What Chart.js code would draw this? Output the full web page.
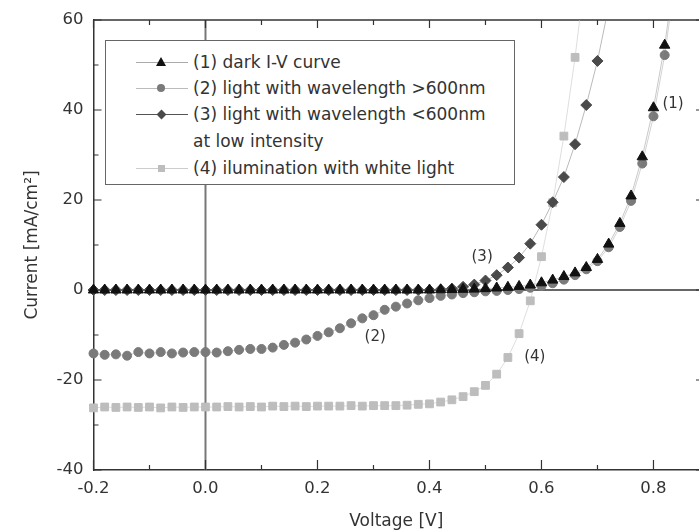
<!DOCTYPE html>
<html>
<head>
<meta charset="utf-8">
<title>I-V curves</title>
<script src="https://cdn.jsdelivr.net/npm/chart.js@4.4.1/dist/chart.umd.min.js"></script>
<style>
  html, body { margin: 0; padding: 0; background: #fff; }
  #wrap { position: relative; width: 699px; height: 532px; overflow: hidden; }
  #legend {
    position: absolute; left: 105px; top: 40px; width: 408px; height: 143px;
    border: 1.5px solid #666; background: #fff;
    font-family: 'DejaVu Sans', sans-serif; font-size: 17px; color: #333;
  }
  .row { position: absolute; left: 0; width: 100%; height: 20px; }
  .ln  { position: absolute; left: 30px; width: 52px; top: 10px; border-top: 1px solid #bbb; }
  .txt { position: absolute; left: 87px; top: 0; line-height: 20px; white-space: nowrap; }
  .tri { position: absolute; left: 50px; top: 5px; width: 0; height: 0;
         border-left: 5px solid transparent; border-right: 5px solid transparent; border-bottom: 9px solid #111; }
  .circ { position: absolute; left: 51px; top: 6px; width: 8px; height: 8px; border-radius: 50%; background: #7a7a7a; }
  .dia  { position: absolute; left: 51.5px; top: 6.5px; width: 7px; height: 7px; background: #4a4a4a; transform: rotate(45deg); }
  .sq   { position: absolute; left: 51.5px; top: 6.5px; width: 7px; height: 7px; background: #bdbdbd; }
</style>
</head>
<body>
<div id="wrap">
  <canvas id="ivChart"></canvas>
  <div id="legend">
    <div class="row" style="top:11px"><div class="ln" style="border-color:#aaa"></div><div class="tri"></div><div class="txt">(1) dark I-V curve</div></div>
    <div class="row" style="top:37px"><div class="ln" style="border-color:#bbb"></div><div class="circ"></div><div class="txt">(2) light with wavelength &gt;600nm</div></div>
    <div class="row" style="top:63px"><div class="ln" style="border-color:#555"></div><div class="dia"></div><div class="txt">(3) light with wavelength &lt;600nm</div></div>
    <div class="row" style="top:90px"><div class="txt">at low intensity</div></div>
    <div class="row" style="top:117px"><div class="ln" style="border-color:#ccc"></div><div class="sq"></div><div class="txt">(4) ilumination with white light</div></div>
  </div>
</div>
<script>
'use strict';

// ── Data (voltage in V, current in mA/cm²) ───────────────
const voltage = [
  -0.20, -0.18, -0.16, -0.14, -0.12, -0.10, -0.08, -0.06, -0.04, -0.02,
   0.00,  0.02,  0.04,  0.06,  0.08,  0.10,  0.12,  0.14,  0.16,  0.18,
   0.20,  0.22,  0.24,  0.26,  0.28,  0.30,  0.32,  0.34,  0.36,  0.38,
   0.40,  0.42,  0.44,  0.46,  0.48,  0.50,  0.52,  0.54,  0.56,  0.58,
   0.60,  0.62,  0.64,  0.66,  0.68,  0.70,  0.72,  0.74,  0.76,  0.78,
   0.80,  0.82,  0.84
];

// (1) dark
const darkCurrent = [
  0, 0, 0, 0, 0, 0, 0, 0, 0, 0,
  0, 0, 0, 0, 0, 0, 0, 0, 0, 0,
  0, 0, 0, 0, 0, 0, 0, 0, 0, 0,
  0.0, 0.05, 0.1, 0.15, 0.2, 0.3, 0.45, 0.6, 0.8, 1.1,
  1.6, 2.2, 3.0, 3.8, 5.0, 6.8, 10.2, 14.8, 20.9, 29.6,
  40.5, 54.4, 72
];

// (2) light > 600 nm
const redCurrent = [
  -14.1, -14.4, -14.3, -14.6, -13.8, -14.1, -13.8, -14.1, -13.9, -13.8,
  -13.8, -13.9, -13.6, -13.3, -13.1, -13.1, -12.8, -12.2, -11.7, -11.0,
  -10.2, -9.4, -8.5, -7.4, -6.3, -5.6, -4.4, -3.7, -3.0, -2.3,
  -1.8, -1.3, -1.0, -0.7, -0.5, -0.3, -0.2, 0.0, 0.2, 0.5,
  0.9, 1.5, 2.3, 3.3, 4.6, 6.4, 9.5, 14.0, 19.8, 28.1,
  38.6, 52.2, 70
];

// (3) light < 600 nm, low intensity
const blueCurrent = [
  0, 0, 0, 0, 0, 0, 0, 0, 0, 0,
  0, 0, 0, 0, 0, 0, 0, 0, 0, 0,
  0, 0, 0, 0, 0, 0, 0, 0, 0, 0,
  0.0, 0.1, 0.3, 0.7, 1.2, 2.1, 3.3, 5.0, 7.2, 10.3,
  14.5, 19.5, 25.1, 32.4, 41.1, 50.9, 63, null, null, null,
  null, null, null
];

// (4) white light
const whiteCurrent = [
  -26.2, -26.0, -26.1, -26.0, -26.1, -26.0, -26.2, -26.0, -26.1, -26.0,
  -26.0, -26.0, -25.9, -26.0, -25.9, -26.0, -25.8, -25.9, -25.8, -25.9,
  -25.8, -25.8, -25.8, -25.7, -25.8, -25.7, -25.7, -25.7, -25.6, -25.4,
  -25.3, -24.9, -24.4, -23.7, -22.6, -21.2, -18.7, -15.0, -9.7, -2.4,
  7.4, 19.4, 34.2, 51.7, 72, null, null, null, null, null,
  null, null, null
];

const xTickValues = [-0.2, 0.0, 0.2, 0.4, 0.6, 0.8];
const yTickValues = [-40, -20, 0, 20, 40, 60];

// curve tags placed in data space
const curveTags = [
  { text: '(1)', x: 0.835, y: 41.3 },
  { text: '(2)', x: 0.303, y: -10.4 },
  { text: '(3)', x: 0.494, y: 7.3 },
  { text: '(4)', x: 0.588, y: -14.9 }
];

// ── Style ─────────────────────────────────────────────────
const FONT_FAMILY = "'DejaVu Sans', sans-serif";
const TEXT_COLOR  = '#333';
const AXIS_COLOR  = '#333';

function toPoints(ys) {
  return voltage.map((v, i) => ({ x: v, y: ys[i] }));
}

function series(label, ys, style, radius, fill, line) {
  return {
    label,
    data: toPoints(ys),
    pointStyle: style,
    pointRadius: radius,
    pointBackgroundColor: fill,
    pointBorderColor: fill,
    pointBorderWidth: 1,
    borderColor: line,
    borderWidth: 0.8,
    showLine: true,
    spanGaps: false,
    tension: 0,
    clip: { left: 8, top: 0, right: 0, bottom: 8 }
  };
}

// ── Frame, inward ticks, zero lines, curve tags ──────────
const framePlugin = {
  id: 'frame',
  beforeDatasetsDraw(chart) {
    const { ctx, chartArea: a, scales: { x, y } } = chart;
    ctx.save();

    // zero lines
    ctx.strokeStyle = '#777';
    ctx.lineWidth = 2;
    ctx.beginPath();
    const x0 = x.getPixelForValue(0);
    ctx.moveTo(x0, a.top); ctx.lineTo(x0, a.bottom);
    ctx.stroke();
    ctx.strokeStyle = '#666';
    ctx.beginPath();
    const y0 = y.getPixelForValue(0);
    ctx.moveTo(a.left, y0); ctx.lineTo(a.right, y0);
    ctx.stroke();

    // top frame line
    ctx.strokeStyle = AXIS_COLOR;
    ctx.lineWidth = 1.5;
    ctx.beginPath();
    ctx.moveTo(a.left, a.top); ctx.lineTo(a.right, a.top);
    ctx.stroke();

    // x ticks every 0.1 (major every 0.2), bottom + top, pointing inward
    ctx.lineWidth = 1.2;
    ctx.beginPath();
    for (let k = -2; k <= 8; k++) {
      const px = x.getPixelForValue(k / 10);
      const len = k % 2 === 0 ? 10 : 5;
      ctx.moveTo(px, a.bottom); ctx.lineTo(px, a.bottom - len);
      ctx.moveTo(px, a.top);    ctx.lineTo(px, a.top + (k % 2 === 0 ? 8 : 5));
    }
    // y ticks every 10 (major every 20), left pointing inward
    for (let v = -40; v <= 60; v += 10) {
      const py = y.getPixelForValue(v);
      const len = v % 20 === 0 ? 8 : 5;
      ctx.moveTo(a.left, py); ctx.lineTo(a.left + len, py);
      if (v % 20 === 0) { ctx.moveTo(a.right, py); ctx.lineTo(a.right - 3, py); }
    }
    ctx.stroke();
    ctx.restore();
  },
  afterDatasetsDraw(chart) {
    const { ctx, scales: { x, y } } = chart;
    ctx.save();
    ctx.font = `15px ${FONT_FAMILY}`;
    ctx.fillStyle = TEXT_COLOR;
    ctx.textAlign = 'center';
    ctx.textBaseline = 'middle';
    curveTags.forEach(t => {
      ctx.fillText(t.text, x.getPixelForValue(t.x), y.getPixelForValue(t.y));
    });
    ctx.restore();
  }
};

// ── Chart ─────────────────────────────────────────────────
new Chart(document.getElementById('ivChart'), {
  type: 'scatter',
  data: {
    datasets: [
      series('(1) dark I-V curve', darkCurrent, 'triangle', 6, '#111', 'rgba(140,140,140,0.6)'),
      series('(2) light with wavelength >600nm', redCurrent, 'circle', 4.5, '#7a7a7a', 'rgba(160,160,160,0.6)'),
      series('(3) light with wavelength <600nm at low intensity', blueCurrent, 'rectRot', 5.5, '#4a4a4a', 'rgba(110,110,110,0.6)'),
      series('(4) ilumination with white light', whiteCurrent, 'rect', 5.5, '#bdbdbd', 'rgba(195,195,195,0.7)')
    ]
  },
  options: {
    responsive: true,
    maintainAspectRatio: false,
    animation: false,
    events: [],
    layout: { padding: { top: 20, right: 0, bottom: 0, left: 0 }, autoPadding: false },
    plugins: { legend: { display: false }, tooltip: { enabled: false } },
    scales: {
      x: {
        type: 'linear',
        min: -0.2,
        max: 0.8813,
        grid: { display: false, drawTicks: false },
        border: { display: true, color: AXIS_COLOR, width: 1.5 },
        afterBuildTicks: s => { s.ticks = xTickValues.map(v => ({ value: v })); },
        afterFit: s => { s.height = 62; },
        ticks: {
          font: { family: FONT_FAMILY, size: 16.5 },
          color: TEXT_COLOR,
          padding: 9,
          maxRotation: 0,
          callback: v => v.toFixed(1)
        },
        title: {
          display: true,
          text: 'Voltage [V]',
          font: { family: FONT_FAMILY, size: 17 },
          color: TEXT_COLOR,
          padding: { top: 1, bottom: 0 }
        }
      },
      y: {
        type: 'linear',
        min: -40,
        max: 60,
        grid: { display: false, drawTicks: false },
        border: { display: true, color: AXIS_COLOR, width: 1.5 },
        afterBuildTicks: s => { s.ticks = yTickValues.map(v => ({ value: v })); },
        afterFit: s => { s.width = 93.5; },
        ticks: {
          font: { family: FONT_FAMILY, size: 16.5 },
          color: TEXT_COLOR,
          padding: 10,
          callback: v => String(v)
        },
        title: {
          display: true,
          text: 'Current [mA/cm²]',
          font: { family: FONT_FAMILY, size: 17 },
          color: TEXT_COLOR,
          padding: { top: 22, bottom: 0 }
        }
      }
    }
  },
  plugins: [framePlugin]
});
</script>
</body>
</html>
